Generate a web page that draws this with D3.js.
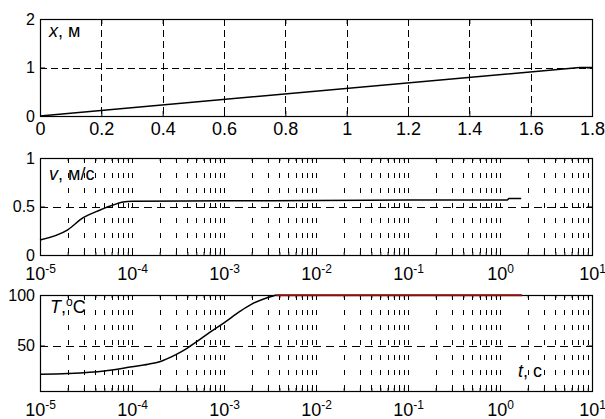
<!DOCTYPE html>
<html>
<head>
<meta charset="utf-8">
<script src="https://cdn.jsdelivr.net/npm/d3@7"></script>
<style>
body { margin: 0; background: #fff; }
svg text { font-family: "Liberation Sans", Arial, sans-serif; fill: #000; }
</style>
</head>
<body>
<svg id="chart" width="605" height="419"></svg>
<script>
// top panel: x (m) on a linear axis
var posT = [0, 1.76, 1.8];
var posX = [0, 1, 1];
var posTicksX = [0, 0.2, 0.4, 0.6, 0.8, 1, 1.2, 1.4, 1.6, 1.8];
var posTicksY = [0, 1, 2];

// middle panel: v (m/s) vs t, log axis
var velT = [1e-5, 2e-5, 2.95e-5, 4.5e-5, 6.2e-5, 8e-5, 1e-4, 1e-3, 1e-2, 1e-1, 1.2, 1.25, 1.7];
var velV = [0.155, 0.26, 0.385, 0.464, 0.515, 0.546, 0.553, 0.558, 0.562, 0.566, 0.568, 0.582, 0.582];
var velTicksY = [0, 0.5, 1];

// bottom panel: T (°C) vs t, log axis
var tempT = [1e-5, 2e-5, 5e-5, 1e-4, 1.5e-4, 2e-4, 3e-4, 4e-4, 5e-4, 7e-4, 1e-3, 1.5e-3, 2e-3, 3e-3, 3.7e-3];
var tempV = [21.5, 22.3, 24.8, 29, 31.5, 34, 41, 47.5, 53.5, 63, 72.5, 84, 91, 97.5, 100];
var tempFlatT = [3.7e-3, 1.73];
var tempFlatV = [100, 100];
var tempTicksY = [50, 100];

var logDomain = [1e-5, 10];

var svg = d3.select("#chart");
var L = 40, R = 592;

function px(v) { return Math.round(v) + 0.5; }

function styleAxis(g, size) {
  g.select(".domain").remove();
  g.attr("font-family", null).attr("font-size", size);
  g.selectAll("line").attr("stroke", "#000");
}

function drawFrame(x, y, top, bottom, gx, gy, vDash, hDash) {
  var g = svg.append("g");
  g.selectAll(null).data(gx).enter().append("line")
    .attr("x1", function (d) { return px(x(d)); })
    .attr("x2", function (d) { return px(x(d)); })
    .attr("y1", top).attr("y2", bottom)
    .attr("stroke", "#000").attr("stroke-dasharray", vDash);
  g.selectAll(null).data(gy).enter().append("line")
    .attr("x1", L).attr("x2", R)
    .attr("y1", function (d) { return px(y(d)); })
    .attr("y2", function (d) { return px(y(d)); })
    .attr("stroke", "#000").attr("stroke-dasharray", hDash);

  // y ticks both sides
  var yl = g.append("g").attr("transform", "translate(" + L + ",0)")
    .call(d3.axisLeft(y).tickValues(y.ticksList).tickSize(-5).tickPadding(5)
      .tickFormat(function (d) { return d; }));
  styleAxis(yl, 16);
  var yr = g.append("g").attr("transform", "translate(" + R + ",0)")
    .call(d3.axisRight(y).tickValues(y.ticksList).tickSize(-5).tickFormat(""));
  styleAxis(yr, 16);
  return g;
}

function drawBox(top, bottom) {
  svg.append("rect")
    .attr("x", L + 0.5).attr("y", top + 0.5)
    .attr("width", R - L).attr("height", bottom - top)
    .attr("fill", "none").attr("stroke", "#000").attr("stroke-width", 1.2);
}

function drawLabel(xp, yp, italic, rest) {
  var t = svg.append("text").attr("x", xp).attr("y", yp).attr("font-size", 18);
  t.append("tspan").attr("font-style", "italic").text(italic);
  rest.forEach(function (r) {
    var s = t.append("tspan").text(r.text);
    if (r.sup) s.attr("font-size", 12).attr("dy", -7);
    if (r.down) s.attr("dy", r.down);
  });
}

//###############################################
// panel 1
var x1 = d3.scaleLinear().domain([0, 1.8]).range([L, R]);
var y1 = d3.scaleLinear().domain([0, 2]).range([116, 19]);
y1.ticksList = posTicksY;
drawFrame(x1, y1, 19, 116, posTicksX.slice(1, -1), [1], "7,4", "7,4");

var b1 = svg.append("g").attr("transform", "translate(0,116)")
  .call(d3.axisBottom(x1).tickValues(posTicksX).tickSize(-5).tickPadding(6)
    .tickFormat(function (d) { return d; }));
styleAxis(b1, 18);
var t1 = svg.append("g").attr("transform", "translate(0,19)")
  .call(d3.axisTop(x1).tickValues(posTicksX).tickSize(-5).tickFormat(""));
styleAxis(t1, 18);

svg.append("path")
  .datum(d3.range(posT.length))
  .attr("fill", "none").attr("stroke", "#000").attr("stroke-width", 1.5)
  .attr("d", d3.line().x(function (i) { return x1(posT[i]); }).y(function (i) { return y1(posX[i]); }));
drawBox(19, 116);
drawLabel(49, 37, "x", [{ text: ", м" }]);

//###############################################
// log panels
function logPanel(top, bottom, yDomain, yTicks, hLine) {
  var x = d3.scaleLog().domain(logDomain).range([L, R]);
  var y = d3.scaleLinear().domain(yDomain).range([bottom, top]);
  y.ticksList = yTicks;
  var all = x.ticks();
  var major = all.filter(function (d) { return Math.abs(Math.log10(d) - Math.round(Math.log10(d))) < 1e-9; });
  var minor = all.filter(function (d) { return major.indexOf(d) < 0; });
  drawFrame(x, y, top, bottom, all.slice(1, -1), [hLine], "5,10", "8,5");

  var bMin = svg.append("g").attr("transform", "translate(0," + bottom + ")")
    .call(d3.axisBottom(x).tickValues(minor).tickSize(-3).tickFormat(""));
  styleAxis(bMin, 18);
  var tMin = svg.append("g").attr("transform", "translate(0," + top + ")")
    .call(d3.axisTop(x).tickValues(minor).tickSize(-3).tickFormat(""));
  styleAxis(tMin, 18);
  var tMaj = svg.append("g").attr("transform", "translate(0," + top + ")")
    .call(d3.axisTop(x).tickValues(major).tickSize(-5).tickFormat(""));
  styleAxis(tMaj, 18);
  var bMaj = svg.append("g").attr("transform", "translate(0," + bottom + ")")
    .call(d3.axisBottom(x).tickValues(major).tickSize(-5).tickPadding(12).tickFormat(""));
  styleAxis(bMaj, 18);
  bMaj.selectAll(".tick text").each(function (d) {
    var t = d3.select(this);
    t.append("tspan").text("10");
    t.append("tspan").attr("font-size", 12).attr("dy", "-0.55em")
      .text(String(Math.round(Math.log10(d))));
  });
  return { x: x, y: y };
}

var p2 = logPanel(158, 255, [0, 1], velTicksY, 0.5);
svg.append("path")
  .datum(d3.range(velT.length))
  .attr("fill", "none").attr("stroke", "#000").attr("stroke-width", 1.5)
  .attr("d", d3.line().curve(d3.curveMonotoneX)
    .x(function (i) { return p2.x(velT[i]); }).y(function (i) { return p2.y(velV[i]); }));
drawBox(158, 255);
drawLabel(49, 180, "v", [{ text: ", м/с" }]);

var p3 = logPanel(295, 391, [5, 100], tempTicksY, 50);
svg.append("path")
  .datum(d3.range(tempFlatT.length))
  .attr("fill", "none").attr("stroke", "#8b1010").attr("stroke-width", 1.5)
  .attr("d", d3.line().x(function (i) { return p3.x(tempFlatT[i]); }).y(function (i) { return p3.y(tempFlatV[i]); }));
svg.append("path")
  .datum(d3.range(tempT.length))
  .attr("fill", "none").attr("stroke", "#000").attr("stroke-width", 1.5)
  .attr("d", d3.line().curve(d3.curveMonotoneX)
    .x(function (i) { return p3.x(tempT[i]); }).y(function (i) { return p3.y(tempV[i]); }));
drawBox(295, 391);
svg.append("line").attr("x1", p3.x(tempFlatT[0])).attr("x2", p3.x(tempFlatT[1]))
  .attr("y1", 295.5).attr("y2", 295.5).attr("stroke", "#8b1010").attr("stroke-width", 1.5);
drawLabel(50, 313, "T", [{ text: "," }, { text: "o", sup: true }, { text: "C", down: 7 }]);
drawLabel(518, 377, "t", [{ text: ", с" }]);
</script>
</body>
</html>
